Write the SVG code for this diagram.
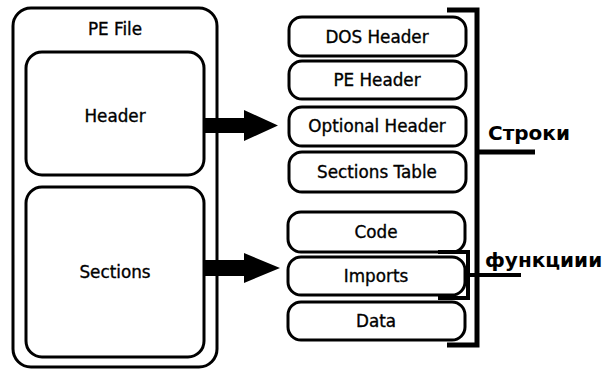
<svg xmlns="http://www.w3.org/2000/svg" width="607" height="369" viewBox="0 0 607 369">
<style>
.box{fill:#fff;stroke:#000;stroke-width:3}
.t{font-family:"DejaVu Sans",sans-serif;font-size:16.8px;fill:#000;stroke:#000;stroke-width:0.35;text-anchor:middle}
.lbl{font-family:"DejaVu Sans",sans-serif;font-weight:bold;font-size:20px;fill:#000}
.br{fill:none;stroke:#000;stroke-width:5}
</style>
<rect width="607" height="369" fill="#fff"/>
<g id="pe-file">
<rect class="box" x="13" y="8" width="204" height="359" rx="18"/>
<text class="t" x="115" y="35">PE File</text>
</g>
<g id="header">
<rect class="box" x="26" y="52" width="178" height="123" rx="16"/>
<text class="t" x="115" y="122">Header</text>
</g>
<g id="sections">
<rect class="box" x="26" y="187" width="178" height="170" rx="16"/>
<text class="t" x="115" y="278">Sections</text>
</g>
<g id="dos-header">
<rect class="box" x="289" y="17" width="177" height="39" rx="13"/>
<text class="t" x="377" y="43">DOS Header</text>
</g>
<g id="pe-header">
<rect class="box" x="289" y="61" width="177" height="38" rx="13"/>
<text class="t" x="377" y="86">PE Header</text>
</g>
<g id="optional-header">
<rect class="box" x="289" y="107" width="177" height="39" rx="13"/>
<text class="t" x="377" y="132">Optional Header</text>
</g>
<g id="sections-table">
<rect class="box" x="289" y="152" width="177" height="40" rx="13"/>
<text class="t" x="377" y="178">Sections Table</text>
</g>
<g id="code">
<rect class="box" x="288" y="212" width="177" height="40" rx="13"/>
<text class="t" x="376" y="238">Code</text>
</g>
<g id="imports">
<rect class="box" x="288" y="257" width="177" height="38" rx="13"/>
<text class="t" x="376" y="282">Imports</text>
</g>
<g id="data">
<rect class="box" x="288" y="302" width="177" height="38" rx="13"/>
<text class="t" x="376" y="327">Data</text>
</g>
<g id="connectors">
<polygon points="204,118 244,118 244,110 278,125.5 244,141 244,133 204,133" fill="#000"/>
<polygon points="204,260 244,260 244,253 280,268 244,283 244,276 204,276" fill="#000"/>
<polyline class="br" points="447,10 477,10 477,345 447,345"/>
<line class="br" x1="477" y1="152" x2="535" y2="152"/>
<polyline fill="none" stroke="#000" stroke-width="4" points="438,252 468,252 468,298 438,298"/>
<line stroke="#000" stroke-width="4" x1="468" y1="275" x2="521" y2="275"/>
</g>
<g id="labels">
<text class="lbl" x="488" y="140">Строки</text>
<text class="lbl" x="485" y="267">функциии</text>
</g>
</svg>
